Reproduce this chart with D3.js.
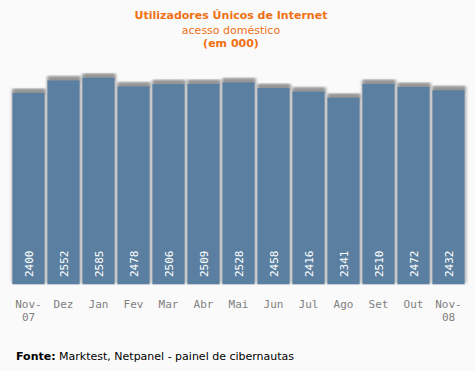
<!DOCTYPE html>
<html>
<head>
<meta charset="utf-8">
<script src="https://cdn.jsdelivr.net/npm/d3@7"></script>
<style>
  body { margin: 0; background: #fafafa; }
  svg { display: block; }
</style>
</head>
<body>
<div id="chart"></div>
<script>
// Data
const months = ["Nov-|07", "Dez", "Jan", "Fev", "Mar", "Abr", "Mai", "Jun", "Jul", "Ago", "Set", "Out", "Nov-|08"]
const users = [2400, 2552, 2585, 2478, 2506, 2509, 2528, 2458, 2416, 2341, 2510, 2472, 2432]

const width = 475
const height = 371
const baseY = 284.3

const svg = d3.select("#chart").append("svg").attr("width", width).attr("height", height)

svg.append("rect").attr("width", width).attr("height", height).attr("fill", "#fafafa")

const defs = svg.append("defs")
defs.append("filter").attr("id", "blur").append("feGaussianBlur").attr("stdDeviation", 1)

const x = d3.scaleBand().domain(months).range([11, 466]).paddingInner(0.08).paddingOuter(0.04)
const y = d3.scaleLinear().domain([0, 2585]).range([289.6, 77.7])

// Shadows
svg.append("g")
  .selectAll("rect")
  .data(users)
  .join("rect")
  .attr("x", (d, i) => x(months[i]) - 1)
  .attr("y", (d) => y(d) - 4)
  .attr("width", x.bandwidth() + 3)
  .attr("height", (d) => baseY - y(d) + 3)
  .attr("fill", "#bdbdbd")
  .attr("filter", "url(#blur)")

svg.append("g")
  .selectAll("rect")
  .data(users)
  .join("rect")
  .attr("x", (d, i) => x(months[i]) + 1)
  .attr("y", (d) => y(d) - 4)
  .attr("width", x.bandwidth() - 1)
  .attr("height", 6)
  .attr("fill", "#959595")
  .attr("filter", "url(#blur)")

// Bars
svg.append("g")
  .selectAll("rect")
  .data(users)
  .join("rect")
  .attr("x", (d, i) => x(months[i]))
  .attr("y", (d) => y(d))
  .attr("width", x.bandwidth())
  .attr("height", (d) => baseY - y(d))
  .attr("fill", "#5a7fa0")

// Value labels
svg.append("g")
  .selectAll("text")
  .data(users)
  .join("text")
  .attr("transform", (d, i) => `translate(${x(months[i]) + x.bandwidth() / 2 + 4},277) rotate(-90)`)
  .attr("font-family", "DejaVu Sans Mono")
  .attr("font-size", 11)
  .attr("fill", "#ffffff")
  .text((d) => d)

// Month labels
const lab = svg.append("g")
  .selectAll("text")
  .data(months)
  .join("text")
  .attr("x", (d) => x(d) + x.bandwidth() / 2)
  .attr("y", 308)
  .attr("text-anchor", "middle")
  .attr("font-family", "DejaVu Sans Mono")
  .attr("font-size", 11)
  .attr("fill", "#808080")
lab.selectAll("tspan")
  .data((d) => d.split("|"))
  .join("tspan")
  .attr("x", function () { return d3.select(this.parentNode).attr("x") })
  .attr("dy", (d, i) => (i ? 13 : 0))
  .text((d) => d)

// Titles
const titleX = 231
svg.append("text").attr("x", titleX).attr("y", 19).attr("text-anchor", "middle")
  .attr("font-family", "DejaVu Sans").attr("font-weight", "bold").attr("font-size", 11)
  .attr("fill", "#f07013").text("Utilizadores Únicos de Internet")
svg.append("text").attr("x", titleX).attr("y", 34).attr("text-anchor", "middle")
  .attr("font-family", "DejaVu Sans").attr("font-size", 11)
  .attr("fill", "#f07013").text("acesso doméstico")
svg.append("text").attr("x", titleX).attr("y", 47).attr("text-anchor", "middle")
  .attr("font-family", "DejaVu Sans").attr("font-weight", "bold").attr("font-size", 11)
  .attr("fill", "#f07013").text("(em 000)")

// Source
const src = svg.append("text").attr("x", 16).attr("y", 360)
  .attr("font-family", "DejaVu Sans").attr("font-size", 11).attr("fill", "#000")
src.append("tspan").attr("font-weight", "bold").text("Fonte:")
src.append("tspan").text(" Marktest, Netpanel - painel de cibernautas")
</script>
</body>
</html>
